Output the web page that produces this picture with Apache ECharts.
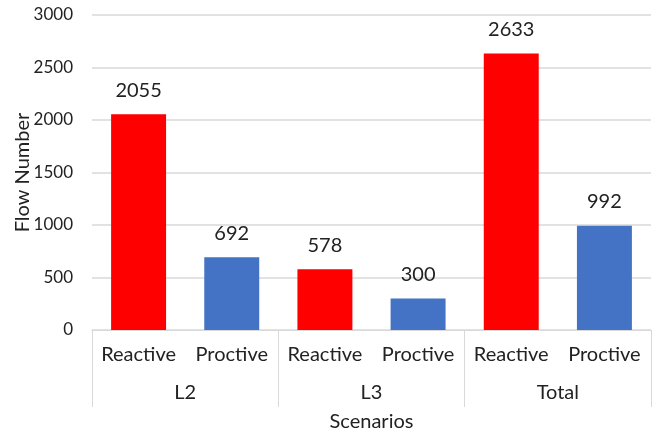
<!DOCTYPE html>
<html>
<head>
<meta charset="utf-8">
<script src="https://cdn.jsdelivr.net/npm/echarts@6/dist/echarts.min.js"></script>
<style>
  html, body { margin: 0; padding: 0; background: #fff; }
  #chart { width: 660px; height: 435px; }
</style>
</head>
<body>
<div id="chart"></div>
<script>
// Flow counts per scenario and strategy
const groups = ['L2', 'L3', 'Total'];
const strategies = ['Reactive', 'Proctive', 'Reactive', 'Proctive', 'Reactive', 'Proctive'];
const flowNumbers = [2055, 692, 578, 300, 2633, 992];
const yTicks = { min: 0, max: 3000, interval: 500 };

const strategyColors = { Reactive: '#FF0000', Proctive: '#4472C4' };
const FONT = 'Lato';
const TEXT = '#222222';
const LINE = '#d9d9d9';

const chart = echarts.init(document.getElementById('chart'), null, { renderer: 'canvas' });

chart.setOption({
  animation: false,
  textStyle: { fontFamily: FONT },
  grid: { left: 92, right: 9, top: 15, bottom: 105, containLabel: false, outerBoundsMode: 'none' },
  xAxis: [
    {
      type: 'category',
      data: strategies,
      position: 'bottom',
      axisLine: { show: true, lineStyle: { color: LINE, width: 1 } },
      axisTick: { show: false },
      axisLabel: { color: TEXT, fontSize: 20, fontFamily: FONT, margin: 15, interval: 0 }
    },
    {
      type: 'category',
      data: groups,
      position: 'bottom',
      axisLine: { show: true, lineStyle: { color: LINE, width: 1 } },
      axisTick: { show: true, length: 77, inside: false, lineStyle: { color: LINE, width: 1 } },
      axisLabel: { color: TEXT, fontSize: 20, fontFamily: FONT, margin: 53, interval: 0 },
      name: 'Scenarios',
      nameLocation: 'middle',
      nameGap: 82,
      nameMoveOverlap: false,
      nameTextStyle: { color: TEXT, fontSize: 20, fontFamily: FONT }
    }
  ],
  yAxis: {
    type: 'value',
    min: yTicks.min,
    max: yTicks.max,
    interval: yTicks.interval,
    axisLine: { show: false },
    axisTick: { show: false },
    splitLine: { lineStyle: { color: LINE, width: 1.5 } },
    axisLabel: { color: TEXT, fontSize: 17, fontFamily: FONT, margin: 19, formatter: v => String(v) },
    name: 'Flow Number',
    nameLocation: 'middle',
    nameGap: 59,
    nameMoveOverlap: false,
    nameTextStyle: { color: TEXT, fontSize: 20, fontFamily: FONT }
  },
  series: [
    {
      type: 'bar',
      xAxisIndex: 0,
      barWidth: '59%',
      data: flowNumbers.map((v, i) => ({
        value: v,
        itemStyle: { color: strategyColors[strategies[i]] }
      })),
      label: {
        show: true,
        position: 'top',
        distance: 14,
        color: TEXT,
        fontSize: 20,
        fontFamily: FONT
      }
    }
  ]
});
</script>
</body>
</html>
